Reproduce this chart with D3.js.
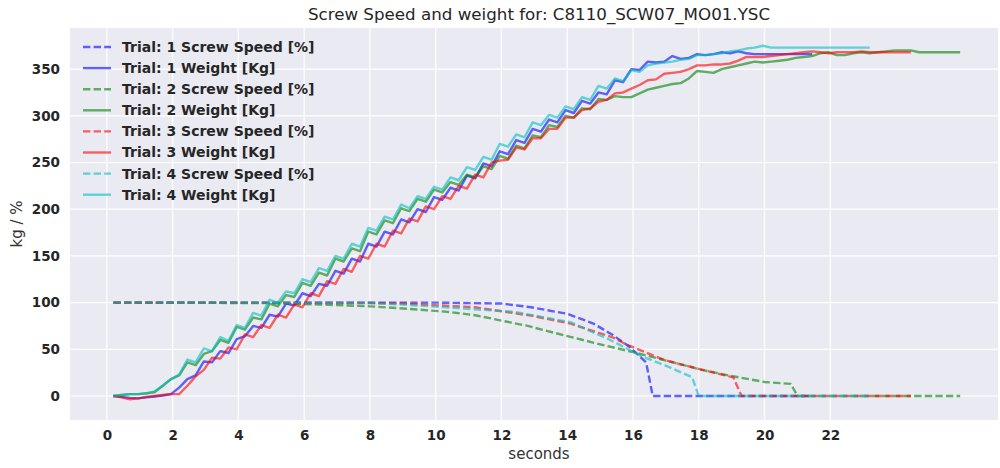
<!DOCTYPE html>
<html>
<head>
<meta charset="utf-8">
<script src="https://cdn.jsdelivr.net/npm/d3@7"></script>
<style>
  body { margin: 0; background: #fff; }
  svg { display: block; font-family: "DejaVu Sans", sans-serif; }
</style>
</head>
<body>
<svg width="1000" height="468"></svg>
<script>
// weight samples: first sample at 0.2 s, then one every 0.25 s
var sampleStart = 0.2, sampleStep = 0.25;

var weight1 = [0,-1,-2,-2.5,-1.5,-0.5,0.5,2,9,18,22,37,36,48,46,61,64,75,73,87,85,99,97,110,107,120,118,134,131,147,144,163,160,176,173,189,186,200,197,213,210,223,220,236,233,249,246,262,259,274,271,286,283,296,293,306,303,316,313,325,323,338,336,350,349,358,357,358,364,361,362,366,365,366,368,367,369,367,366,366,366,366,366,366,366,366];
var weight2 = [0,1,2,2,3,4,11,18,22,36,33,45,48,60,57,74,71,84,82,99,96,108,106,121,118,132,129,147,144,158,155,176,173,188,185,201,198,211,208,221,218,229,226,237,234,246,243,257,254,268,265,279,277,290,288,300,298,308,307,318,317,321,320,320,324,328,330,332,334,335,340,348,347,346,350,352,354,356,358,357,358,359,360,362,363,364,367,368,365,365,367,368,367,368,369,370,370,370,368,368,368,368,368,368];
var weight3 = [0,-1.5,-3.5,-2.5,-1,0,1,2,2,11,21,28,41,40,52,50,66,63,76,73,87,84,98,95,110,107,123,120,136,133,150,147,163,160,177,174,190,187,203,200,214,211,225,222,237,234,250,252,253,266,264,276,276,286,286,298,298,306,308,315,317,324,325,329,333,338,339,345,346,347,350,354,354,355,355,356,359,363,363,363,364,365,366,367,368,369,368,367,368,368,368,369,368,368,368,368,368,368];
var weight4 = [0,1,2,2,2.5,5,11,18,23,39,36,51,48,63,59,76,73,89,86,103,100,112,110,125,122,137,134,150,147,163,160,180,177,192,189,205,201,214,211,224,221,234,231,245,242,256,253,270,267,280,277,293,290,301,298,310,307,320,317,332,329,340,337,349,347,354,356,357,358,360,361,365,365,366,367,369,370,372,373,375,373,373,373,373,373,373,373,373,373,373,373,373,373];

// screw speed: [seconds, percent]
var speed1 = [[0.2,100],[10,100],[12,99],[12.9,95],[14,88],[14.8,77.5],[15.4,65],[15.9,52.5],[16.4,36],[16.6,0],[21.45,0]];
var speed2 = [[0.2,100],[5,99.5],[6.5,98],[8,96],[8.9,94],[10.4,90],[11.2,86.5],[12.8,75],[13.9,65],[15.1,54.5],[16,47],[17,38],[18.1,28],[18.9,22],[20,15],[20.8,13],[21,0],[25.95,0]];
var speed3 = [[0.2,100],[8,99.5],[9,99],[11.2,95],[12.9,86],[14.1,77.5],[15.4,62.5],[15.8,55],[17,38],[18,29],[19.05,20],[19.3,0],[24.45,0]];
var speed4 = [[0.2,100],[8,99.5],[9,98],[12.4,90],[14.1,79],[15.25,61],[16.3,42],[17.1,31],[17.8,20],[18,0],[23.2,0]];

var trialNames = ["1", "2", "3", "4"];
var trialColors = ["#0000ff", "#008000", "#ff0000", "#00bfbf"];
var xTicks = [0, 2, 4, 6, 8, 10, 12, 14, 16, 18, 20, 22];
var yTicks = [0, 50, 100, 150, 200, 250, 300, 350];

(function () {
  var svg = d3.select("svg");
  var mLeft = 70, mRight = 998, mTop = 28, mBottom = 420;
  var midX = 539;

  var x = d3.scaleLinear().domain([-1.12, 27.1]).range([mLeft, mRight]);
  var y = d3.scaleLinear().domain([-25.7, 394]).range([mBottom, mTop]);

  svg.append("rect")
    .attr("x", mLeft).attr("y", mTop)
    .attr("width", mRight - mLeft).attr("height", mBottom - mTop)
    .attr("fill", "#eaeaf2");

  // grid
  svg.append("g").selectAll("line").data(xTicks).enter().append("line")
    .attr("x1", d => x(d)).attr("x2", d => x(d))
    .attr("y1", mTop).attr("y2", mBottom)
    .attr("stroke", "#fff").attr("stroke-width", 1.2);
  svg.append("g").selectAll("line").data(yTicks).enter().append("line")
    .attr("x1", mLeft).attr("x2", mRight)
    .attr("y1", d => y(d)).attr("y2", d => y(d))
    .attr("stroke", "#fff").attr("stroke-width", 1.2);

  // axes (labels only, seaborn style)
  var xAxis = svg.append("g").attr("transform", "translate(0," + mBottom + ")")
    .call(d3.axisBottom(x).tickValues(xTicks).tickSize(0).tickPadding(10));
  var yAxis = svg.append("g").attr("transform", "translate(" + mLeft + ",0)")
    .call(d3.axisLeft(y).tickValues(yTicks).tickSize(0).tickPadding(10));
  [xAxis, yAxis].forEach(function (a) {
    a.select(".domain").remove();
    a.selectAll("text")
      .attr("font-family", "DejaVu Sans")
      .attr("font-size", 13.5)
      .attr("font-weight", "bold")
      .attr("fill", "#262626");
  });

  svg.append("text")
    .attr("x", midX).attr("y", 459)
    .attr("text-anchor", "middle")
    .attr("font-size", 15).attr("fill", "#333")
    .text("seconds");
  svg.append("text")
    .attr("transform", "translate(22," + (mTop + mBottom) / 2 + ") rotate(-90)")
    .attr("text-anchor", "middle")
    .attr("font-size", 15).attr("fill", "#333")
    .text("kg / %");
  svg.append("text")
    .attr("x", midX).attr("y", 20)
    .attr("text-anchor", "middle")
    .attr("font-size", 16.7).attr("fill", "#262626")
    .text("Screw Speed and weight for: C8110_SCW07_MO01.YSC");

  var line = d3.line().x(d => x(d[0])).y(d => y(d[1]));
  function sampled(values) {
    return values.map(function (v, i) { return [sampleStart + i * sampleStep, v]; });
  }

  var speeds = [speed1, speed2, speed3, speed4];
  var weights = [weight1, weight2, weight3, weight4];

  var series = [];
  trialNames.forEach(function (n, i) {
    series.push({ label: "Trial: " + n + " Screw Speed [%]", pts: speeds[i], color: trialColors[i], dashed: true });
    series.push({ label: "Trial: " + n + " Weight [Kg]", pts: sampled(weights[i]), color: trialColors[i], dashed: false });
  });

  svg.append("g").selectAll("path").data(series).enter().append("path")
    .attr("d", d => line(d.pts))
    .attr("fill", "none")
    .attr("stroke", d => d.color)
    .attr("stroke-opacity", 0.6)
    .attr("stroke-width", 2.4)
    .attr("stroke-linejoin", "round")
    .attr("stroke-dasharray", d => d.dashed ? "7.4,3.2" : null);

  // legend
  var legend = svg.append("g").attr("transform", "translate(83,47)");
  var item = legend.selectAll("g").data(series).enter().append("g")
    .attr("transform", (d, i) => "translate(0," + (i * 21.1) + ")");
  item.append("line")
    .attr("x1", 0).attr("x2", 28)
    .attr("stroke", d => d.color)
    .attr("stroke-opacity", 0.6)
    .attr("stroke-width", 2.4)
    .attr("stroke-dasharray", d => d.dashed ? "7.4,3.2" : null);
  item.append("text")
    .attr("x", 39).attr("dy", "0.35em")
    .attr("font-size", 14).attr("font-weight", "bold")
    .attr("fill", "#262626")
    .text(d => d.label);
})();
</script>
</body>
</html>
